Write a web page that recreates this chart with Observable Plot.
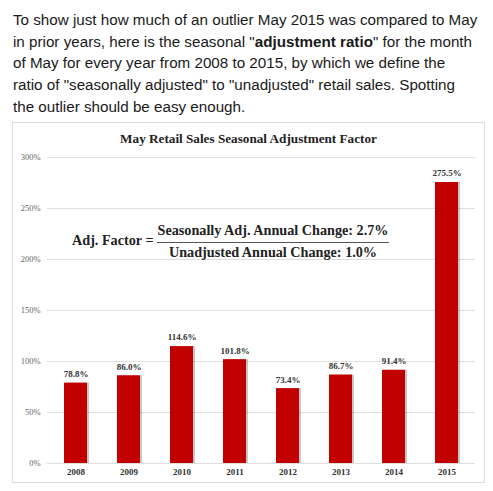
<!DOCTYPE html>
<html>
<head>
<meta charset="utf-8">
<script src="https://cdn.jsdelivr.net/npm/d3@7"></script>
<script src="https://cdn.jsdelivr.net/npm/@observablehq/plot@0.6"></script>
<style>
  html, body { margin: 0; padding: 0; background: #fff; }
  body { width: 493px; height: 491px; position: relative; overflow: hidden; }
  #intro {
    position: absolute; left: 13px; top: 9px;
    font-family: "Liberation Sans", Arial, sans-serif; font-size: 15.2px; line-height: 21.7px;
    color: #1a1a1a; white-space: nowrap;
  }
  #box {
    position: absolute; left: 12px; top: 122px; width: 471px; height: 359px;
    border: 1px solid #dcdcdc; background: #fff;
  }
  #chart { position: absolute; left: 0; top: 0; }
  .serif { font-family: "Liberation Serif", "Times New Roman", serif; font-weight: bold; color: #222; }
  #title { position: absolute; left: 0; width: 471px; top: 8px; line-height: 16px; text-align: center; font-size: 13.2px; }
  #lhs { position: absolute; left: 59px; top: 108px; line-height: 18px; font-size: 14.2px; }
  #frac { position: absolute; left: 144px; top: 98px; width: 232px; font-size: 14.2px; }
  #num { line-height: 18px; padding-bottom: 3px; border-bottom: 1.5px solid #555; text-align: center; }
  #den { line-height: 18px; text-align: center; }
</style>
</head>
<body>
<div id="intro">To show just how much of an outlier May 2015 was compared to May<br>in prior years, here is the seasonal "<b>adjustment ratio</b>" for the month<br>of May for every year from 2008 to 2015, by which we define the<br>ratio of "seasonally adjusted" to "unadjusted" retail sales. Spotting<br>the outlier should be easy enough.</div>
<div id="box">
  <div id="chart"></div>
  <div id="title" class="serif">May Retail Sales Seasonal Adjustment Factor</div>
  <div id="lhs" class="serif">Adj. Factor =</div>
  <div id="frac" class="serif">
    <div id="num">Seasonally Adj. Annual Change: 2.7%</div>
    <div id="den">Unadjusted Annual Change: 1.0%</div>
  </div>
</div>
<script>
const years = ["2008", "2009", "2010", "2011", "2012", "2013", "2014", "2015"];
const ratios = [78.8, 86.0, 114.6, 101.8, 73.4, 86.7, 91.4, 275.5];
const yTicks = [0, 50, 100, 150, 200, 250, 300];

const data = years.map((y, i) => ({year: y, value: ratios[i]}));
const serif = '"Liberation Serif", "Times New Roman", serif';

const chart = Plot.plot({
  width: 471,
  height: 359,
  marginLeft: 34,
  marginRight: 9,
  marginTop: 34,
  marginBottom: 19,
  style: {fontFamily: serif, background: "transparent", overflow: "visible"},
  x: {domain: years, paddingInner: 0.57, paddingOuter: 0.28, label: null},
  y: {domain: [0, 300], label: null},
  marks: [
    Plot.gridY(yTicks, {stroke: "#dedede", strokeOpacity: 1, strokeWidth: 1}),
    Plot.axisY(yTicks, {tickSize: 0, tickPadding: 7, tickFormat: d => d + "%", fontSize: 8.5, fill: "#666", label: null}),
    Plot.axisX({tickSize: 0, tickPadding: 5, fontSize: 9, fontWeight: "bold", fill: "#333", label: null}),
    Plot.barY(data, {x: "year", y: "value", fill: "#000", fillOpacity: 0.22, dx: 2}),
    Plot.barY(data, {x: "year", y: "value", fill: "#c10000"}),
    Plot.text(data, {x: "year", y: "value", text: d => d.value.toFixed(1) + "%", dy: -9, fontSize: 9, fontWeight: "bold", fill: "#333"})
  ]
});
document.getElementById("chart").appendChild(chart);
</script>
</body>
</html>
